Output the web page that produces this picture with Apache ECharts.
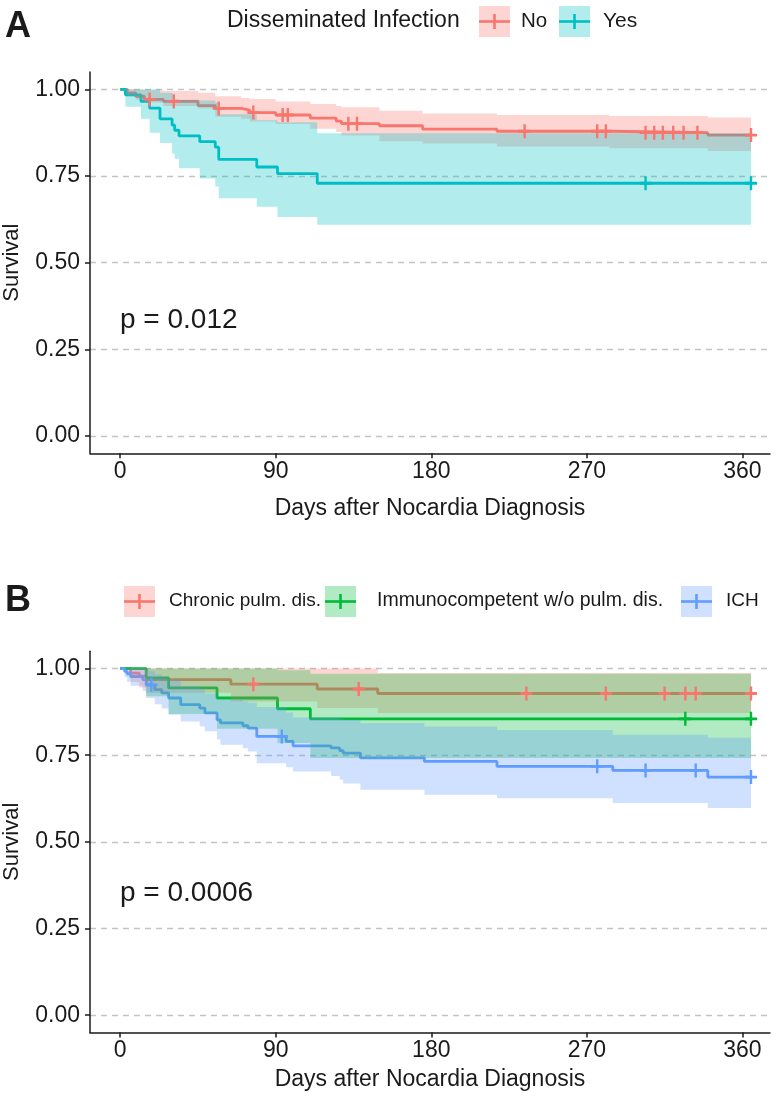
<!DOCTYPE html>
<html><head><meta charset="utf-8">
<script src="https://cdn.jsdelivr.net/npm/echarts@6/dist/echarts.min.js"></script>
<style>html,body{margin:0;padding:0;background:#fff}#c{width:780px;height:1102px}</style>
</head><body><div id="c"></div>
<script>
// ---------- Tick labels ----------
const xTicks = [0, 90, 180, 270, 360];
const yTicks = [0, 0.25, 0.5, 0.75, 1];

// ---------- Panel A : Disseminated Infection ----------
const legendTitleA = 'Disseminated Infection';
const groupsA = ['No', 'Yes'];
const noT  = [0, 4, 9, 14, 25, 45, 55, 70, 75, 90, 110, 125, 128, 150, 175, 218, 283, 340, 365];
const noS  = [1, .99, .98, .971, .965, .953, .945, .94, .933, .926, .917, .908, .901, .895, .885, .879, .875, .868, .868];
const noLo = [1, .98, .97, .962, .952, .945, .921, .915, .907, .9, .886, .877, .867, .85, .844, .835, .83, .822, .822];
const noHi = [1, 1, .999, .997, .995, .99, .98, .975, .972, .965, .958, .952, .948, .938, .93, .926, .923, .919, .919];
const noCens = [17, 31, 57, 77, 94, 97, 132, 137, 234, 276, 281, 304, 309, 314, 320, 326, 334, 365];

const yesT  = [0, 3, 12, 17, 23, 30, 31.5, 34, 46, 55, 57, 79, 91, 114, 365];
const yesS  = [1, .984, .965, .946, .915, .897, .882, .866, .849, .833, .798, .776, .757, .729, .729];
const yesLo = [1, .95, .915, .875, .845, .815, .8, .772, .743, .72, .686, .661, .632, .609, .609];
const yesHi = [1, 1, 1, 1, .99, .987, .972, .97, .968, .962, .928, .911, .905, .873, .873];
const yesCens = [304, 365];
const pA = 'p = 0.012';

// ---------- Panel B : host groups ----------
const groupsB = ['Chronic pulm. dis.', 'Immunocompetent w/o pulm. dis.', 'ICH'];
const chrT  = [0, 6, 11, 15, 64, 114, 149, 365];
const chrS  = [1, .987, .978, .968, .955, .941, .928, .928];
const chrLo = [1, .961, .945, .93, .905, .886, .872, .872];
const chrHi = [1, 1, 1, 1, 1, 1, .987, .987];
const chrCens = [77, 138, 235, 281, 315, 327, 333, 365];

const imcT  = [0, 15, 28, 56, 91, 110, 365];
const imcS  = [1, .973, .944, .915, .884, .855, .855];
const imcLo = [1, .92, .869, .826, .785, .742, .742];
const imcHi = [1, 1, 1, 1, .995, .985, .985];
const imcCens = [327, 365];

const ichT  = [0, 2.5, 4, 6, 13, 15, 20, 24, 28, 35, 46, 49, 56, 58, 71, 74, 79, 96, 100, 122, 127, 129, 139, 176, 218, 285, 340, 365];
const ichS  = [1, .992, .985, .977, .968, .953, .939, .93, .915, .896, .886, .872, .852, .843, .835, .828, .804, .79, .777, .771, .763, .756, .742, .732, .718, .706, .687, .687];
const ichLo = [1, .975, .962, .95, .935, .915, .897, .885, .867, .847, .833, .819, .795, .78, .77, .761, .727, .715, .703, .69, .68, .668, .65, .636, .626, .612, .598, .598];
const ichHi = [1, 1, 1, 1, 1, .993, .983, .977, .966, .948, .942, .928, .913, .911, .905, .901, .889, .873, .859, .858, .855, .852, .843, .833, .823, .809, .8, .8];
const ichCens = [18, 93.5, 276, 304, 333, 365];
const pB = 'p = 0.0006';

const xTitle = 'Days after Nocardia Diagnosis';
const yTitle = 'Survival';

// ---------- Styling ----------
const FONT = 'Liberation Sans, Arial, Helvetica, sans-serif';
const RED = '#F8766D', TEAL = '#00BFC4', GREEN = '#00BA38', BLUE = '#619CFF';
function rgba(hex, a) {
  const n = parseInt(hex.slice(1), 16);
  return 'rgba(' + (n >> 16 & 255) + ',' + (n >> 8 & 255) + ',' + (n & 255) + ',' + a + ')';
}
const PLUS = 'path://M-1.2,-6H1.2V-1.2H6V1.2H1.2V6H-1.2V1.2H-6V-1.2H-1.2Z';

function stepAt(t, s, x) {
  let v = s[0];
  for (let i = 0; i < t.length; i++) { if (t[i] <= x) v = s[i]; }
  return v;
}
function lineSeries(g, t, s, color) {
  return { type: 'line', xAxisIndex: g, yAxisIndex: g, step: 'end', symbol: 'none', silent: true, z: 2,
    data: t.map((x, i) => [x, s[i]]), lineStyle: { width: 2.8, color: color }, itemStyle: { color: color } };
}
function bandSeries(g, t, lo, hi, color) {
  return { type: 'custom', xAxisIndex: g, yAxisIndex: g, silent: true, z: 3,
    data: [[t[0], lo[0]]],
    renderItem: function (params, api) {
      const pts = [];
      for (let i = 0; i < t.length; i++) {
        pts.push(api.coord([t[i], hi[i]]));
        if (i + 1 < t.length) pts.push(api.coord([t[i + 1], hi[i]]));
      }
      for (let i = t.length - 1; i >= 0; i--) {
        if (i + 1 < t.length) pts.push(api.coord([t[i + 1], lo[i]]));
        pts.push(api.coord([t[i], lo[i]]));
      }
      return { type: 'polygon', shape: { points: pts }, style: { fill: rgba(color, 0.3) } };
    } };
}
function censSeries(g, t, s, cens, color) {
  return { type: 'scatter', xAxisIndex: g, yAxisIndex: g, silent: true, z: 4, symbol: PLUS, symbolSize: [12, 14],
    data: cens.map(c => [c, stepAt(t, s, c)]), itemStyle: { color: color, opacity: 1 } };
}
function xAxisCfg(g, gap) {
  return { gridIndex: g, type: 'value', min: -17.5, max: 376,
    axisLine: { show: true, onZero: false, lineStyle: { color: '#1a1a1a', width: 1.5 } },
    axisTick: { show: true, length: 5, customValues: xTicks, lineStyle: { color: '#1a1a1a', width: 1.5 } },
    axisLabel: { customValues: xTicks, fontSize: 23, color: '#1a1a1a', fontFamily: FONT, margin: 7 },
    splitLine: { show: false },
    name: xTitle, nameLocation: 'middle', nameGap: gap,
    nameTextStyle: { fontSize: 23, color: '#1a1a1a', fontFamily: FONT } };
}
function yAxisCfg(g) {
  return { gridIndex: g, type: 'value', min: -0.05, max: 1.05,
    axisLine: { show: true, onZero: false, lineStyle: { color: '#1a1a1a', width: 1.5 } },
    axisTick: { show: true, length: 5, customValues: yTicks, lineStyle: { color: '#1a1a1a', width: 1.5 } },
    axisLabel: { customValues: yTicks, fontSize: 23, color: '#1a1a1a', fontFamily: FONT, margin: 10,
      formatter: v => Number(v).toFixed(2) },
    splitLine: { show: true, lineStyle: { color: '#c4c4c4', width: 1.4, type: [6, 5] } },
    name: yTitle, nameLocation: 'middle', nameGap: 67, nameRotate: 90,
    nameTextStyle: { fontSize: 22, color: '#1a1a1a', fontFamily: FONT } };
}

function legendKey(x, yc, color) {
  return [
    { type: 'rect', shape: { x: x, y: yc - 15, width: 31, height: 31 }, style: { fill: rgba(color, 0.3) } },
    { type: 'line', shape: { x1: x, y1: yc + 0.5, x2: x + 31, y2: yc + 0.5 }, style: { stroke: color, lineWidth: 2.6 } },
    { type: 'line', shape: { x1: x + 15.5, y1: yc - 7, x2: x + 15.5, y2: yc + 8 }, style: { stroke: color, lineWidth: 2.6 } }
  ];
}
function txt(x, y, s, size, weight, align) {
  return { type: 'text', x: x, y: y, style: { text: s, fontSize: size, fontFamily: FONT, fontWeight: weight || 'normal',
    fill: '#1a1a1a', verticalAlign: 'middle', align: align || 'left' } };
}

const graphic = [].concat(
  [txt(5, 27, 'A', 36, 'bold'), txt(5, 601, 'B', 36, 'bold')],
  [txt(227, 21, legendTitleA, 23)],
  legendKey(479, 21, RED), [txt(521, 21, groupsA[0], 20.5)],
  legendKey(559, 21, TEAL), [txt(603, 21, groupsA[1], 21)],
  legendKey(124, 601, RED), [txt(169, 601, groupsB[0], 19)],
  legendKey(325, 601, GREEN), [txt(377, 601, groupsB[1], 19.5)],
  legendKey(681, 601, BLUE), [txt(726, 601, groupsB[2], 19)],
  [txt(120, 320, pA, 28), txt(120, 893, pB, 28)]
);

const chart = echarts.init(document.getElementById('c'), null, { renderer: 'canvas' });
chart.setOption({
  animation: false,
  backgroundColor: '#fff',
  grid: [
    { left: 90, width: 680, top: 72, height: 381.3, containLabel: false, outerBoundsMode: 'none' },
    { left: 90, width: 680, top: 651.2, height: 381.3, containLabel: false, outerBoundsMode: 'none' }
  ],
  xAxis: [xAxisCfg(0, 44), xAxisCfg(1, 36)],
  yAxis: [yAxisCfg(0), yAxisCfg(1)],
  graphic: graphic,
  series: [
    lineSeries(0, noT, noS, RED), lineSeries(0, yesT, yesS, TEAL),
    bandSeries(0, noT, noLo, noHi, RED), bandSeries(0, yesT, yesLo, yesHi, TEAL),
    censSeries(0, noT, noS, noCens, RED), censSeries(0, yesT, yesS, yesCens, TEAL),
    lineSeries(1, chrT, chrS, RED), lineSeries(1, imcT, imcS, GREEN), lineSeries(1, ichT, ichS, BLUE),
    bandSeries(1, chrT, chrLo, chrHi, RED), bandSeries(1, imcT, imcLo, imcHi, GREEN), bandSeries(1, ichT, ichLo, ichHi, BLUE),
    censSeries(1, chrT, chrS, chrCens, RED), censSeries(1, imcT, imcS, imcCens, GREEN), censSeries(1, ichT, ichS, ichCens, BLUE)
  ]
});
</script>
</body></html>
